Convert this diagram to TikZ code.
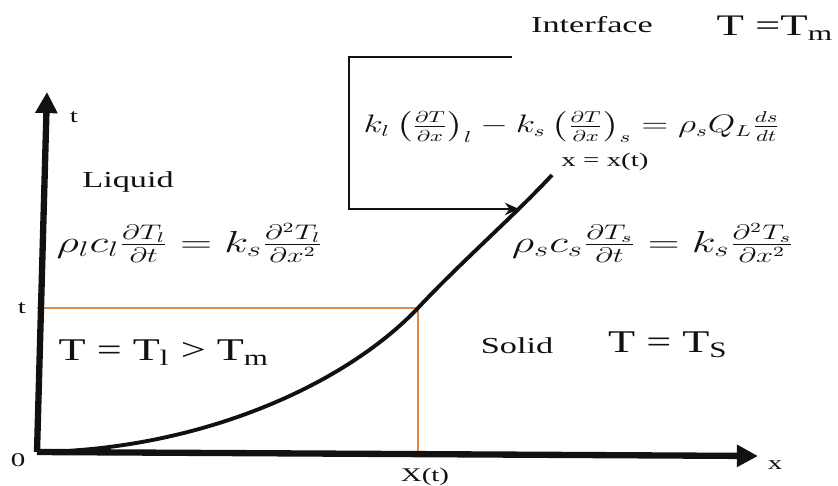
\documentclass[tikz,border=0pt]{standalone}
\usepackage{amsmath}
\usepackage{graphicx}
\usepackage{fontspec}
\setmainfont{Liberation Serif}
\usetikzlibrary{arrows.meta,calc}
\definecolor{Ink}{HTML}{111111}
\definecolor{Orange}{HTML}{DE8C4E}
% horizontally widened text, as in the source figure
\newcommand{\hw}[2][1.5]{\scalebox{#1}[1]{#2}}

\begin{document}
\begin{tikzpicture}[x=0.02cm,y=-0.02cm,Ink,
  axis/.style={line width=3.6pt,-{Triangle[length=12pt,width=12pt]}},
  front/.style={line width=2.2pt},
  guide/.style={Orange,line width=0.8pt},
  frame/.style={line width=1.6pt},
  lbl/.style={font=\fontsize{11}{13}\selectfont,inner sep=1pt},
  region/.style={font=\fontsize{13}{15}\selectfont,inner sep=1pt},
  bigtext/.style={font=\fontsize{18}{21}\selectfont,inner sep=1pt},
  eqn/.style={font=\fontsize{17}{20}\selectfont,inner sep=1pt}]
\useasboundingbox (0,0) rectangle (838,486);

% Axes and the moving front.
\coordinate (origin) at (37,452);
\coordinate (ttip) at (47,92);
\coordinate (xtip) at (758,456);
\coordinate (now) at (418,308);
\coordinate (top) at (552,175);

\draw[guide] (origin |- now) -- (now) -- (now |- origin);
\draw[front] (origin) .. controls (200,450) and (345,385) .. (now)
  .. controls (460,263) and (515,215) .. (top);
\draw[axis] (origin) -- (ttip);
\draw[axis] (origin) -- (xtip);

\node[lbl] (tlabel) at (74,117) {\hw{t}};
\node[lbl] (xlabel) at (775,465) {\hw{x}};
\node[lbl] (zero) at (18,460) {\hw{0}};
\node[lbl] (tnow) at (22,308) {\hw{t}};
\node[lbl] (xnow) at (425,477) {\hw{X(t)}};
\node[lbl] (front) at (605,162) {\hw{x = x(t)}};

% Interface condition box.
\coordinate (boxtop) at (512,57);
\coordinate (hit) at (519,209);
\draw[frame,-{Stealth[length=8pt,width=7pt]}] (boxtop) -| (349,209) -- (hit);

\node[region] (iface) at (592,25) {\hw{Interface}};
\node[bigtext,font=\fontsize{17}{20}\selectfont] (tm) at (775,28)
  {\hw{T =T\textsubscript{m}}};
\node[font=\fontsize{13.5}{16}\selectfont,inner sep=1pt] (stefan) at (572,127)
  {\hw[1.4]{$k_l\left(\frac{\partial T}{\partial x}\right)_l - k_s\left(\frac{\partial T}{\partial x}\right)_s = \rho_s Q_L \frac{ds}{dt}$}};

% Phases.
\node[region] (liquid) at (128,182) {\hw{Liquid}};
\node[eqn] (liqeq) at (190,243)
  {\hw[1.45]{$\rho_l c_l \frac{\partial T_l}{\partial t} = k_s \frac{\partial^2 T_l}{\partial x^2}$}};
\node[eqn] (soleq) at (653,243)
  {\hw[1.45]{$\rho_s c_s \frac{\partial T_s}{\partial t} = k_s \frac{\partial^2 T_s}{\partial x^2}$}};
\node[bigtext] (tliq) at (164,353)
  {\hw[1.4]{T = T\textsubscript{l} > T\textsubscript{m}}};
\node[region] (solid) at (517,346) {\hw{Solid}};
\node[bigtext] (tsol) at (668,345) {\hw[1.4]{T = T\textsubscript{S}}};
\end{tikzpicture}
\end{document}
